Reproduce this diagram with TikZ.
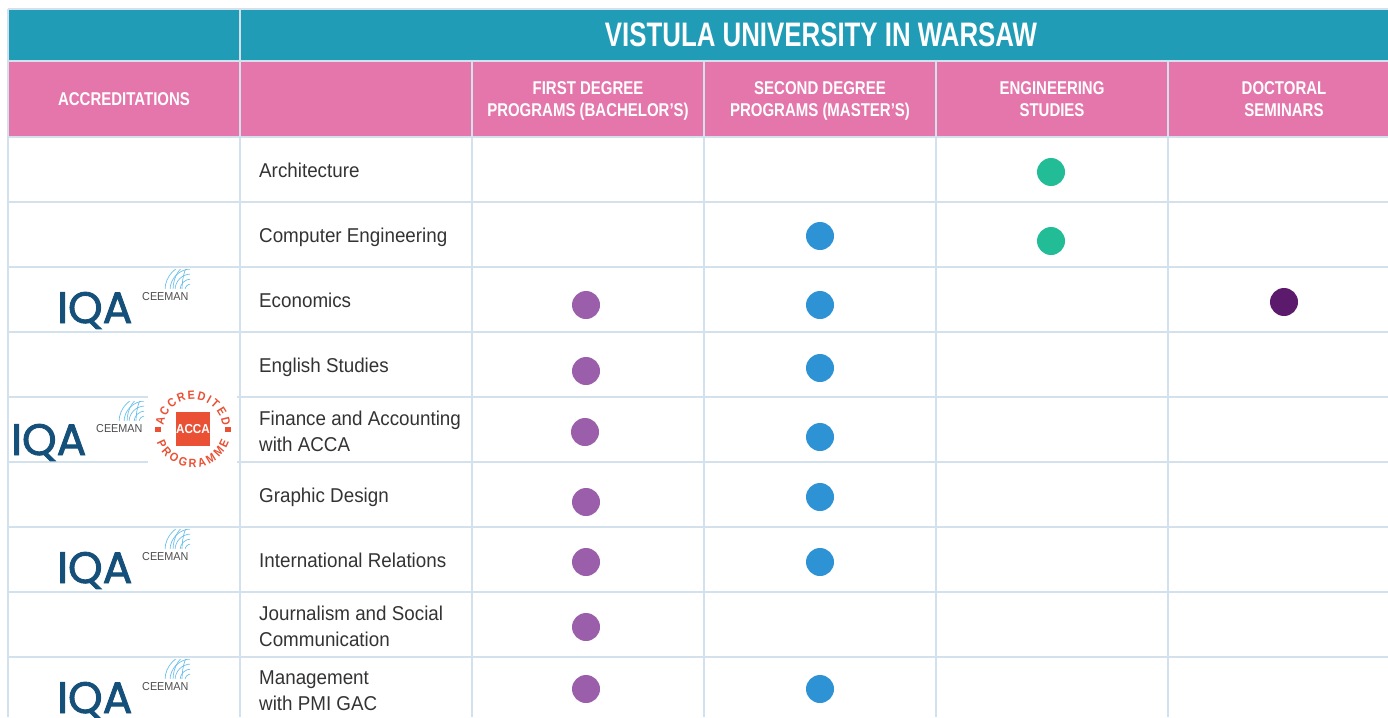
\documentclass[tikz,border=0pt]{standalone}
\usepackage{fontspec}
\usepackage{xcolor}
\usepackage{tikz}
\usetikzlibrary{decorations.text}

\setmainfont{Liberation Sans}[FakeStretch=0.94]
\newfontfamily\headfont{Liberation Sans}[FakeStretch=0.81]
\newfontfamily\titlefont{Liberation Sans}[FakeStretch=0.76]
\newfontfamily\accafont{Liberation Sans}[FakeStretch=0.9]
\newfontfamily\iqafont{Poppins}[BoldFont={Poppins}, BoldFeatures={FakeBold=2}]

\definecolor{tealhead}{HTML}{209CB6}
\definecolor{pinkhead}{HTML}{E476AB}
\definecolor{gridblue}{HTML}{D3E1EC}
\definecolor{ink}{HTML}{333333}
\definecolor{firstpurple}{HTML}{9A5EAA}
\definecolor{secondblue}{HTML}{2E93D4}
\definecolor{enggreen}{HTML}{22BC97}
\definecolor{docpurple}{HTML}{5B1A6B}
\definecolor{iqablue}{HTML}{15507A}
\definecolor{ceemangray}{HTML}{4D4D4D}
\definecolor{globeblue}{HTML}{6CC0EA}
\definecolor{accared}{HTML}{EA5034}

\tikzset{
  grid line/.style={line width=1.5pt, draw=gridblue},
  progdot/.style={circle, inner sep=0pt, minimum size=28pt},
  prog/.style={anchor=west, align=left, inner sep=0pt, text=ink, font=\fontsize{20}{26}\selectfont},
  colhead/.style={align=center, inner sep=0pt, text=white, font=\headfont\bfseries\fontsize{18.5}{22}\selectfont},
  iqa logo/.pic={
    \node[anchor=base west, inner sep=0pt, text=iqablue, font=\iqafont\bfseries\fontsize{44}{44}\selectfont] (-iqa) at (0,0) {IQA};
    \node[anchor=base west, inner sep=0pt, text=ceemangray, font=\fontsize{11.5}{12}\selectfont] (-ceeman) at (85,-23) {CEEMAN};
    \begin{scope}
      \clip (103,-54) rectangle (133,-35);
      \draw[globeblue, line width=0.7pt] (134,-33) circle (6) circle (11) circle (16) circle (21) circle (26);
      \draw[globeblue, line width=0.7pt] (134,-33) ellipse (9 and 26) ellipse (18 and 26);
    \end{scope}
  }
}

\begin{document}
\begin{tikzpicture}[x=1pt,y=-1pt]
\useasboundingbox (0,0) rectangle (1388,717);

% header bands
\fill[tealhead] (8,9) rectangle (1388,61);
\fill[pinkhead] (8,61) rectangle (1388,137);

% table grid
\draw[grid line] (8,9) -- (1388,9)
  (8,61) -- (1388,61) (8,137) -- (1388,137) (8,202) -- (1388,202)
  (8,267) -- (1388,267) (8,332) -- (1388,332) (8,397) -- (1388,397)
  (8,462) -- (1388,462) (8,527) -- (1388,527) (8,592) -- (1388,592)
  (8,657) -- (1388,657)
  (8,9) -- (8,717) (240,9) -- (240,717)
  (472,61) -- (472,717) (704,61) -- (704,717)
  (936,61) -- (936,717) (1168,61) -- (1168,717);

\begin{scope}[every node/.style={colhead}]
\node[font=\titlefont\bfseries\fontsize{34}{34}\selectfont] (title) at (821,35) {VISTULA UNIVERSITY IN WARSAW};
\node (accreditations) at (124,99) {ACCREDITATIONS};
\node (first degree) at (588,101) {FIRST DEGREE\\PROGRAMS (BACHELOR’S)};
\node (second degree) at (820,101) {SECOND DEGREE\\PROGRAMS (MASTER’S)};
\node (engineering) at (1052,99) {ENGINEERING\\STUDIES};
\node (doctoral) at (1284,99) {DOCTORAL\\SEMINARS};
\end{scope}

\begin{scope}[every node/.style={prog}]
\node (architecture) at (259,170) {Architecture};
\node (computer engineering) at (259,237) {Computer Engineering};
\node (economics) at (259,300) {Economics};
\node (english studies) at (259,367) {English Studies};
\node (finance) at (259,431) {Finance and Accounting\\with ACCA};
\node (graphic design) at (259,497) {Graphic Design};
\node (international relations) at (259,560) {International Relations};
\node (journalism) at (259,626) {Journalism and Social\\Communication};
\node (management) at (259,691) {Management\\with PMI GAC};
\end{scope}

\begin{scope}[every node/.style={progdot}]
\node[fill=enggreen] (architecture eng) at (1051,172) {};
\node[fill=secondblue] (computer engineering second) at (820,236) {};
\node[fill=enggreen] (computer engineering eng) at (1051,241) {};
\node[fill=firstpurple] (economics first) at (586,305) {};
\node[fill=secondblue] (economics second) at (820,305) {};
\node[fill=docpurple] (economics doc) at (1284,302) {};
\node[fill=firstpurple] (english studies first) at (586,371) {};
\node[fill=secondblue] (english studies second) at (820,368) {};
\node[fill=firstpurple] (finance first) at (585,432) {};
\node[fill=secondblue] (finance second) at (820,437) {};
\node[fill=firstpurple] (graphic design first) at (586,502) {};
\node[fill=secondblue] (graphic design second) at (820,497) {};
\node[fill=firstpurple] (international relations first) at (586,562) {};
\node[fill=secondblue] (international relations second) at (820,562) {};
\node[fill=firstpurple] (journalism first) at (586,627) {};
\node[fill=firstpurple] (management first) at (586,689) {};
\node[fill=secondblue] (management second) at (820,689) {};
\end{scope}

% accreditation logos
\pic (economics logo) at (57,323) {iqa logo};
\pic (finance logo) at (11,455) {iqa logo};
\pic (relations logo) at (57,583) {iqa logo};
\pic (management logo) at (57,713) {iqa logo};

\fill[white] (148,389) rectangle (237,469);
\begin{scope}[shift={(193,429)}, y=1pt]
\node[fill=accared, minimum size=34pt, inner sep=0pt, text=white, font=\accafont\bfseries\fontsize{13}{13}\selectfont] (acca) at (0,0) {ACCA};
\path[decorate, decoration={text along path, text align=fit to path,
  text={|\accafont\bfseries\fontsize{12}{12}\selectfont\color{accared}|ACCREDITED}}]
  (174:29.5) arc[start angle=174, end angle=6, radius=29.5];
\path[decorate, decoration={text along path, text align=fit to path,
  text={|\accafont\bfseries\fontsize{12}{12}\selectfont\color{accared}|PROGRAMME}}]
  (200:38.5) arc[start angle=200, end angle=340, radius=38.5];
\fill[accared] (-38,-2.5) rectangle (-32,2.5);
\fill[accared] (32,-2.5) rectangle (38,2.5);
\end{scope}

\end{tikzpicture}
\end{document}
